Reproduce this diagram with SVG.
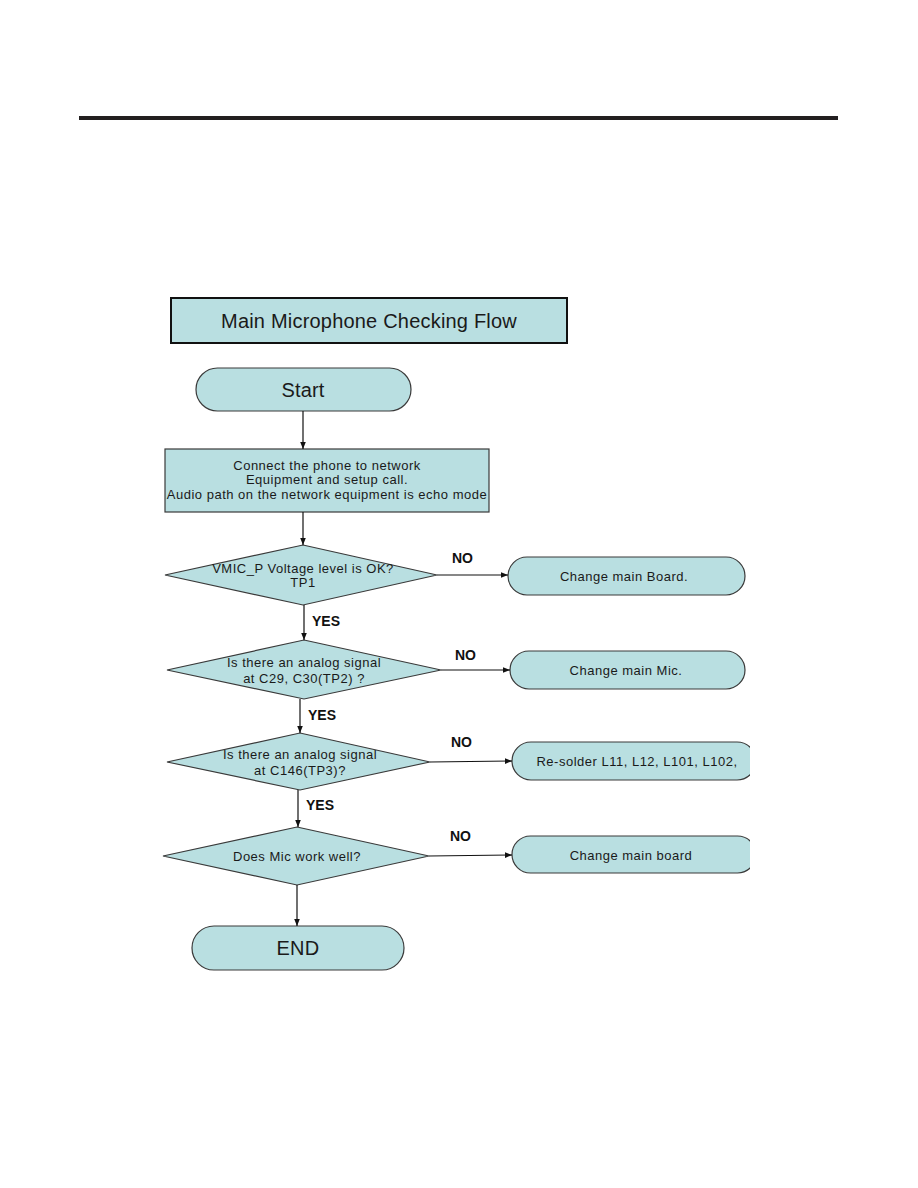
<svg xmlns="http://www.w3.org/2000/svg" width="918" height="1188" viewBox="0 0 918 1188">
<style>
.n{fill:#b9dfe1;stroke:#3a3a3a;stroke-width:1.2}
.t{font-family:"Liberation Sans",Arial,sans-serif;fill:#1a1a1a;text-anchor:middle}
.s{font-size:13px;letter-spacing:0.5px}
.b{font-size:20px;letter-spacing:0.2px}
.l{font-family:"Liberation Sans",Arial,sans-serif;font-size:14px;font-weight:bold;fill:#111}
.c{stroke:#111;stroke-width:1.2;fill:none;marker-end:url(#a)}
</style>
<defs>
<marker id="a" viewBox="0 0 10 10" refX="10" refY="5" markerWidth="7" markerHeight="7" orient="auto" markerUnits="userSpaceOnUse"><path d="M0,1 L10,5 L0,9 Z" fill="#111"/></marker>
<clipPath id="clip"><rect x="0" y="0" width="750" height="1188"/></clipPath>
</defs>
<rect x="79" y="116" width="759" height="4" fill="#231f20"/>
<g id="title"><rect x="171" y="298" width="396" height="45" fill="#b9dfe1" stroke="#111" stroke-width="2"/><text class="t b" x="369" y="328">Main Microphone Checking Flow</text></g>
<g id="start"><rect class="n" x="196" y="368" width="215" height="43" rx="21.5"/><text class="t b" x="303" y="397">Start</text></g>
<g id="connect"><rect class="n" x="165" y="449" width="324" height="63"/><text class="t s" x="327" y="470">Connect the phone to network</text><text class="t s" x="327" y="484">Equipment and setup call.</text><text class="t s" x="327" y="499">Audio path on the network equipment is echo mode</text></g>
<g id="d1"><polygon class="n" points="303,545 437,575 303,605 165,575"/><text class="t s" x="303" y="573">VMIC_P Voltage level is OK?</text><text class="t s" x="303" y="587">TP1</text></g>
<g id="o1"><rect class="n" x="508" y="557" width="237" height="38" rx="19"/><text class="t s" x="624" y="581">Change main Board.</text></g>
<g id="d2"><polygon class="n" points="304,640 441,670 304,699 167,670"/><text class="t s" x="304" y="667">Is there an analog signal</text><text class="t s" x="304" y="683">at C29, C30(TP2) ?</text></g>
<g id="o2"><rect class="n" x="510" y="651" width="235" height="38" rx="19"/><text class="t s" x="626" y="675">Change main Mic.</text></g>
<g id="d3"><polygon class="n" points="300,733 430,762 300,790 167,762"/><text class="t s" x="300" y="759">Is there an analog signal</text><text class="t s" x="300" y="775">at C146(TP3)?</text></g>
<g id="o3" clip-path="url(#clip)"><rect class="n" x="512" y="742" width="244" height="38" rx="19"/><text class="t s" x="637" y="766">Re-solder L11, L12, L101, L102,</text></g>
<g id="d4"><polygon class="n" points="297,827 429,856 297,885 163,856"/><text class="t s" x="297" y="861">Does Mic work well?</text></g>
<g id="o4" clip-path="url(#clip)"><rect class="n" x="512" y="836" width="244" height="37" rx="18.5"/><text class="t s" x="631" y="860">Change main board</text></g>
<g id="end"><rect class="n" x="192" y="926" width="212" height="44" rx="22"/><text class="t b" x="298" y="955">END</text></g>
<g id="connectors">
<line class="c" x1="303" y1="411" x2="303" y2="449"/>
<line class="c" x1="303" y1="512" x2="303" y2="545"/>
<line class="c" x1="437" y1="575" x2="508" y2="575"/>
<line class="c" x1="304" y1="605" x2="304" y2="640"/>
<line class="c" x1="441" y1="670" x2="510" y2="670"/>
<line class="c" x1="300" y1="699" x2="300" y2="733"/>
<line class="c" x1="430" y1="762" x2="512" y2="761"/>
<line class="c" x1="298" y1="790" x2="298" y2="827"/>
<line class="c" x1="429" y1="856" x2="512" y2="855"/>
<line class="c" x1="297" y1="885" x2="297" y2="926"/>
<text class="l" x="452" y="563">NO</text>
<text class="l" x="312" y="626">YES</text>
<text class="l" x="455" y="660">NO</text>
<text class="l" x="308" y="720">YES</text>
<text class="l" x="451" y="747">NO</text>
<text class="l" x="306" y="810">YES</text>
<text class="l" x="450" y="841">NO</text>
</g>
</svg>
